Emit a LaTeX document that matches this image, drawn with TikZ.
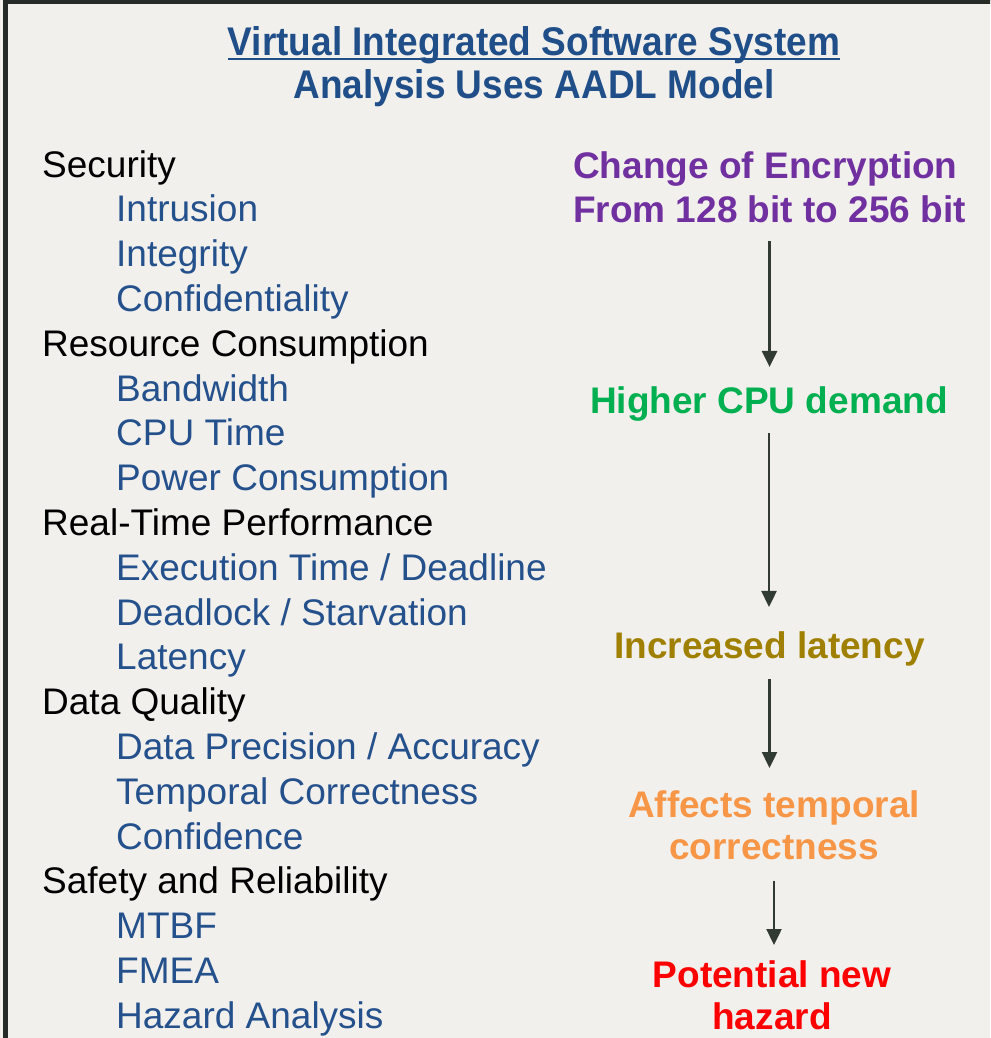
\documentclass[tikz,border=0pt]{standalone}
\usepackage{fontspec}
\setmainfont{Liberation Sans}
\newfontfamily\headfont{Liberation Sans}[FakeStretch=0.925]
\usetikzlibrary{arrows.meta,calc}

\definecolor{paper}{HTML}{F2F0ED}
\definecolor{framegray}{HTML}{262B27}
\definecolor{titleblue}{HTML}{1F4E88}
\definecolor{itemblue}{HTML}{24508C}
\definecolor{arrowgray}{HTML}{323A34}
\definecolor{purpleeff}{HTML}{7030A0}
\definecolor{greeneff}{HTML}{00B050}
\definecolor{oliveeff}{HTML}{A08000}
\definecolor{orangeeff}{HTML}{F79646}
\definecolor{redeff}{HTML}{FF0000}

\begin{document}
\begin{tikzpicture}[x=1pt,y=-1pt,
  head/.style={inner sep=0pt, anchor=base, text=titleblue,
    font=\headfont\fontsize{40}{43}\selectfont\bfseries},
  topic/.style={inner sep=0pt, anchor=base west, text=black,
    font=\fontsize{37}{44}\selectfont},
  item/.style={topic, text=itemblue},
  effect/.style={inner sep=0pt, align=center,
    font=\fontsize{37}{42}\selectfont\bfseries},
  link/.style={draw=arrowgray, line width=2.4pt,
    -{Triangle[length=16pt,width=15pt]}}]

  % page and frame
  \useasboundingbox (0,0) rectangle (990,1038);
  \fill[paper] (0,0) rectangle (990,1038);
  \begin{scope}
    \clip (0,0) rectangle (990,1038);
    \draw[framegray, line width=4.4pt] (5.3,2.3) rectangle (1010,1060);
  \end{scope}

  % heading
  \node[head] (title1) at (534,56) {Virtual Integrated Software System};
  \node[head] (title2) at (534,99) {Analysis Uses AADL Model};
  \draw[titleblue, line width=2.3pt]
    ([yshift=-2.8pt]title1.base west) -- ([yshift=-2.8pt]title1.base east);

  % analysis areas
  \node[topic] (sec)   at (42,177.0)  {Security};
  \node[item]  (intr)  at (116,221.8) {Intrusion};
  \node[item]  (integ) at (116,266.6) {Integrity};
  \node[item]  (conf)  at (116,311.4) {Confidentiality};
  \node[topic] (res)   at (42,356.2)  {Resource Consumption};
  \node[item]  (bw)    at (116,401.0) {Bandwidth};
  \node[item]  (cpu)   at (116,445.8) {CPU Time};
  \node[item]  (pow)   at (116,490.6) {Power Consumption};
  \node[topic] (rt)    at (42,535.4)  {Real-Time Performance};
  \node[item]  (exec)  at (116,580.2) {Execution Time / Deadline};
  \node[item]  (dead)  at (116,625.0) {Deadlock / Starvation};
  \node[item]  (lat)   at (116,669.8) {Latency};
  \node[topic] (dq)    at (42,714.6)  {Data Quality};
  \node[item]  (prec)  at (116,759.4) {Data Precision / Accuracy};
  \node[item]  (temp)  at (116,804.2) {Temporal Correctness};
  \node[item]  (cfd)   at (116,849.0) {Confidence};
  \node[topic] (saf)   at (42,893.8)  {Safety and Reliability};
  \node[item]  (mtbf)  at (116,938.6) {MTBF};
  \node[item]  (fmea)  at (116,983.4) {FMEA};
  \node[item]  (haz)   at (116,1028.2) {Hazard Analysis};

  % chain of effects
  \node[effect, align=left, anchor=north west, text=purpleeff,
        font=\fontsize{37}{44}\selectfont\bfseries] (enc) at (573,151)
    {Change of Encryption\\From 128 bit to 256 bit};
  \node[effect, anchor=base, text=greeneff] (demand) at (769,413)
    {Higher CPU demand};
  \node[effect, anchor=base, text=oliveeff] (latency) at (769.5,658)
    {Increased latency};
  \node[effect, anchor=north, text=orangeeff] (tcorr) at (774,790)
    {Affects temporal\\correctness};
  \node[effect, anchor=north, text=redeff] (hazard) at (772,960)
    {Potential new\\hazard};

  \draw[link, shorten <=18.5pt, shorten >=19pt]
    (enc.south) -- (enc.south |- demand.north);
  \draw[link, shorten <=12pt, shorten >=24pt]
    (demand.south) -- (demand.south |- latency.north);
  \draw[link, shorten <=13pt, shorten >=22pt]
    (latency.south) -- (latency.south |- tcorr.north);
  \draw[link, shorten <=21pt, shorten >=15pt]
    (tcorr.south) -- (tcorr.south |- hazard.north);
\end{tikzpicture}
\end{document}
